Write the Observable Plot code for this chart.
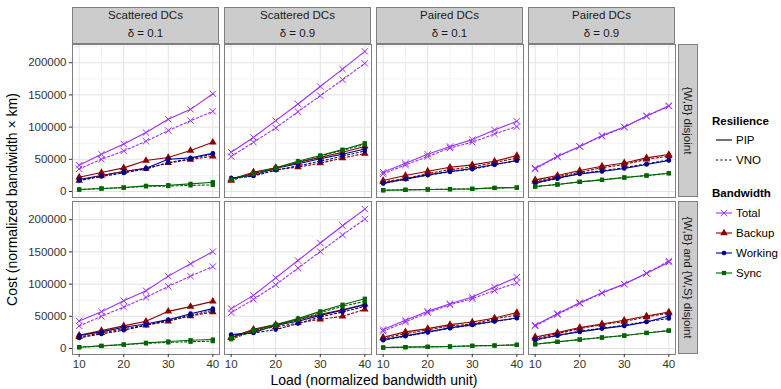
<!DOCTYPE html>
<html><head><meta charset="utf-8">
<script src="https://cdn.jsdelivr.net/npm/d3@7"></script>
<script src="https://cdn.jsdelivr.net/npm/@observablehq/plot@0.6"></script>
<style>body{margin:0;background:#fff;} svg{display:block}</style>
</head><body><div id="chart"></div>
<script>
const loads = [10, 15, 20, 25, 30, 35, 40];
const placements = ["Scattered DCs", "Scattered DCs", "Paired DCs", "Paired DCs"];
const deltas = ["0.1", "0.9", "0.1", "0.9"];
const constraints = ["{W,B} disjoint", "{W,B} and {W,S} disjoint"];
const bandwidths = ["Total", "Backup", "Working", "Sync"];
const resiliences = ["PIP", "VNO"];
const bandwidthColors = ["#9b30ff", "#8b0000", "#00008b", "#006400"];
const xTicks = [10, 20, 30, 40];
const yTicks = [0, 50000, 100000, 150000, 200000];

// each: [constraint row][panel column] -> values at loads
const totalPIP = [
  [[40800,57900,73900,91500,112100,127600,151900],[61000,84000,110000,136000,163000,190000,217600],[30000,43900,57900,69800,80600,95600,109000],[36200,54800,70000,86800,100300,117300,133300]],
  [[42800,57200,74200,89700,112400,131500,150500],[61900,82500,109800,136600,163900,190700,216500],[29400,43800,57700,69600,79900,95400,110800],[36100,54100,71100,86600,100000,117000,134000]]
];
const totalVNO = [
  [[35100,50100,63000,78000,94600,110000,124500],[54300,76500,98700,124000,148800,173600,199000],[27400,41300,54300,67700,76500,89400,100800],[35000,54000,70000,86000,100000,117000,132500]],
  [[35100,50000,64400,79400,96400,112400,127300],[55700,76300,99000,124800,150500,176300,201000],[26800,41200,55700,68000,77300,90200,102100],[35000,53000,70000,86000,100000,116500,136000]]
];
const backupPIP = [
  [[22200,29500,36700,48100,52700,63600,76500],[19000,30000,37000,45000,53000,61000,70000],[17000,24800,31500,37700,41300,47000,55800],[18100,24800,32600,39300,44400,52200,57400]],
  [[20600,27800,35100,42300,57700,65000,73200],[17500,29900,37100,44800,53100,60300,68600],[17500,25800,30900,37100,41200,47400,55700],[18000,24700,32500,38100,43800,50500,56700]]
];
const backupVNO = [
  [[17000,24800,31000,35700,44400,49600,54800],[17000,29000,34000,38000,44000,52000,59000],[15000,20000,28000,34000,38000,45000,52000],[16000,23000,30000,37000,42000,50000,55000]],
  [[18000,24200,30900,36100,42300,50500,56700],[16500,28400,33500,39700,45400,50000,60800],[16000,23000,29000,35000,38000,46000,52000],[16000,23000,31000,37000,42000,49000,55000]]
];
const workingPIP = [
  [[18600,24800,31000,36200,50100,52200,59400],[21000,25000,36000,43000,51000,58000,66000],[13000,19600,25800,31000,35700,41900,48100],[13400,21200,27400,31000,35700,41900,48100]],
  [[20100,25800,33000,38100,44800,54100,61900],[21700,24700,36100,42300,51500,59300,68000],[13900,19600,25800,32000,37100,42300,47400],[13900,20600,25800,30900,35100,41200,50500]]
];
const workingVNO = [
  [[17000,23300,28900,35100,45000,50600,58400],[20000,24000,33000,40000,47000,55000,63000],[12500,19000,25500,30500,34500,41500,48000],[13000,20000,28000,32000,37000,43000,49000]],
  [[16500,22700,28400,36100,43800,51500,59300],[20600,24200,29400,38700,49000,56700,65500],[13000,19000,25000,31500,36500,42000,47000],[13000,20000,27000,31500,36000,42000,46500]]
];
const syncPIP = [
  [[3100,4700,6200,8800,9800,11900,14500],[19000,28000,37000,47000,56000,65000,75000],[2000,2600,3100,3600,4100,5700,6200],[7800,10900,15000,18100,21700,24800,28400]],
  [[2000,4100,6200,8800,10800,12900,13900],[16500,28400,37100,46400,57700,68000,77300],[1500,2100,2600,3100,4100,4600,5700],[6700,10300,13900,17000,20100,24200,27800]]
];
const syncVNO = [
  [[3000,4500,6000,8000,8500,9500,10300],[18000,27000,36000,46000,55000,64000,73000],[2000,2600,3100,3600,4100,5500,6000],[7800,10900,15000,18100,21700,24800,28400]],
  [[2000,4000,6000,8000,9500,10500,11500],[14400,26800,35000,44800,55700,65500,73200],[1500,2100,2600,3100,4100,4600,5700],[6700,10300,13900,17000,20100,24200,27800]]
];

const seriesTable = {
  Total: {PIP: totalPIP, VNO: totalVNO},
  Backup: {PIP: backupPIP, VNO: backupVNO},
  Working: {PIP: workingPIP, VNO: workingVNO},
  Sync: {PIP: syncPIP, VNO: syncVNO}
};

const colKeys = placements.map((p, i) => p + "|" + deltas[i]);
const data = [];
for (const b of bandwidths) for (const r of resiliences) {
  seriesTable[b][r].forEach((rowArr, ri) => rowArr.forEach((vals, ci) => vals.forEach((v, li) => {
    data.push({col: colKeys[ci], row: constraints[ri], load: loads[li], cost: v, bandwidth: b, resilience: r});
  })));
}

const F = "'Liberation Sans', Arial, sans-serif";
const DASH = "2.2,2.2";
const symR = [3.0, 2.8, 2.3, 2.4];
const common = {x: "load", y: "cost", fx: "col", fy: "row"};
const marks = [
  Plot.gridX({ticks: [15, 25, 35], stroke: "#f3f3f3", strokeOpacity: 1}),
  Plot.gridY({ticks: [25000, 75000, 125000, 175000, 225000], stroke: "#f3f3f3", strokeOpacity: 1}),
  Plot.gridX({ticks: xTicks, stroke: "#e3e3e3", strokeOpacity: 1}),
  Plot.gridY({ticks: yTicks, stroke: "#e3e3e3", strokeOpacity: 1}),
  Plot.line(data.filter(d => d.resilience === "PIP"), {...common, z: "bandwidth", stroke: "bandwidth", strokeWidth: 1.1}),
  Plot.line(data.filter(d => d.resilience === "VNO"), {...common, z: "bandwidth", stroke: "bandwidth", strokeWidth: 1.1, strokeDasharray: DASH}),
  Plot.dot(data.filter(d => d.bandwidth === "Total"), {...common, symbol: "times", stroke: "bandwidth", r: symR[0], strokeWidth: 1}),
  Plot.dot(data.filter(d => d.bandwidth === "Backup"), {...common, symbol: "triangle", fill: "bandwidth", r: symR[1]}),
  Plot.dot(data.filter(d => d.bandwidth === "Working"), {...common, symbol: "circle", fill: "bandwidth", r: symR[2]}),
  Plot.dot(data.filter(d => d.bandwidth === "Sync"), {...common, symbol: "square", fill: "bandwidth", r: symR[3]}),
  Plot.frame({stroke: "#7f7f7f"}),
  Plot.axisY({ticks: yTicks, tickFormat: d3.format("d"), tickSize: 3, tickPadding: 3, color: "#333", fontSize: 11.5, label: null}),
  Plot.axisX({ticks: xTicks, tickSize: 3, tickPadding: 2, color: "#333", fontSize: 11.5, label: null})
];

const plot = Plot.plot({
  width: 781, height: 389,
  marginLeft: 71, marginRight: 104, marginTop: 44, marginBottom: 34,
  style: {fontFamily: F, fontSize: "11.5px", background: "#fff", overflow: "visible"},
  x: {domain: [8.5, 41.5]},
  y: {domain: [-9300, 228300]},
  fx: {domain: colKeys, paddingInner: 0.03, paddingOuter: 0, axis: null},
  fy: {domain: constraints, paddingInner: 0.025, paddingOuter: 0, axis: null},
  color: {domain: bandwidths, range: bandwidthColors},
  marks
});
document.getElementById("chart").appendChild(plot);

const svg = d3.select(plot);
const fx = plot.scale("fx"), fy = plot.scale("fy");
const g = svg.append("g").attr("font-family", F).attr("text-anchor", "start");

// top strips
colKeys.forEach((k, i) => {
  const x0 = fx.apply(k), w = fx.bandwidth;
  g.append("rect").attr("x", x0 + 0.5).attr("y", 7.5).attr("width", w - 1).attr("height", 36)
    .attr("fill", "#cccccc").attr("stroke", "#7f7f7f");
  g.append("text").attr("x", x0 + w / 2).attr("y", 19).attr("text-anchor", "middle")
    .attr("font-size", 11.5).attr("fill", "#1a1a1a").text(placements[i]);
  g.append("text").attr("x", x0 + w / 2).attr("y", 37).attr("text-anchor", "middle")
    .attr("font-size", 11.5).attr("fill", "#1a1a1a").text("δ = " + deltas[i]);
});
// right strips
const xr = fx.range[1];
constraints.forEach(k => {
  const y0 = fy.apply(k), h = fy.bandwidth;
  g.append("rect").attr("x", xr + 1.5).attr("y", y0 + 0.5).attr("width", 19).attr("height", h - 1)
    .attr("fill", "#cccccc").attr("stroke", "#7f7f7f");
  g.append("text").attr("transform", `translate(${xr + 11},${y0 + h / 2}) rotate(90)`)
    .attr("text-anchor", "middle").attr("dy", "0.35em").attr("font-size", 11.5).attr("fill", "#1a1a1a").text(k);
});

// axis titles
const xMid = (fx.range[0] + fx.range[1]) / 2;
const yMid = (fy.range[0] + fy.range[1]) / 2;
g.append("text").attr("x", xMid).attr("y", 385).attr("text-anchor", "middle").attr("font-size", 14).attr("fill", "#000")
  .text("Load (normalized bandwidth unit)");
g.append("text").attr("transform", `translate(12,${yMid}) rotate(-90)`).attr("text-anchor", "middle").attr("dy", "0.35em")
  .attr("font-size", 14).attr("fill", "#000").text("Cost (normalized bandwidth × km)");

// legend
const lx = 712;
g.append("text").attr("x", lx).attr("y", 125).attr("font-size", 11.5).attr("font-weight", "bold").text("Resilience");
resiliences.forEach((r, i) => {
  const y = 140 + i * 20;
  g.append("line").attr("x1", lx + 4).attr("x2", lx + 20).attr("y1", y).attr("y2", y).attr("stroke", "#000")
    .attr("stroke-width", 1.1).attr("stroke-dasharray", r === "VNO" ? DASH : null);
  g.append("text").attr("x", lx + 24).attr("y", y).attr("dy", "0.35em").attr("font-size", 11.5).text(r);
});
g.append("text").attr("x", lx).attr("y", 197).attr("font-size", 11.5).attr("font-weight", "bold").text("Bandwidth");
const syms = [d3.symbolTimes, d3.symbolTriangle, d3.symbolCircle, d3.symbolSquare];
bandwidths.forEach((b, i) => {
  const y = 213 + i * 20, c = bandwidthColors[i];
  g.append("line").attr("x1", lx + 4).attr("x2", lx + 20).attr("y1", y).attr("y2", y).attr("stroke", c).attr("stroke-width", 1.1);
  const p = g.append("path").attr("transform", `translate(${lx + 12},${y})`)
    .attr("d", d3.symbol(syms[i], Math.PI * symR[i] * symR[i])());
  if (i === 0) p.attr("fill", "none").attr("stroke", c).attr("stroke-width", 1); else p.attr("fill", c);
  g.append("text").attr("x", lx + 24).attr("y", y).attr("dy", "0.35em").attr("font-size", 11.5).text(b);
});
</script></body></html>
